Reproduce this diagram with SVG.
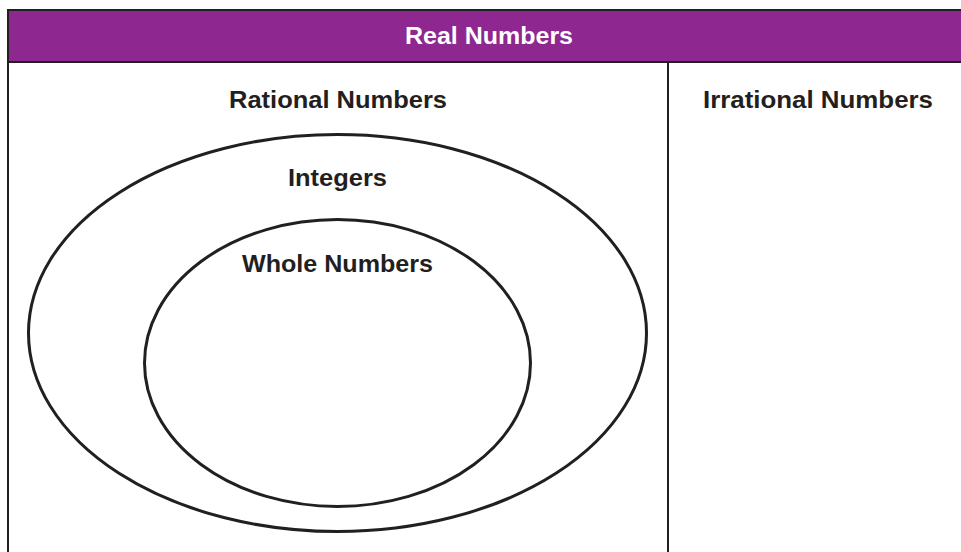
<svg xmlns="http://www.w3.org/2000/svg" width="961" height="552" viewBox="0 0 961 552">
  <style>
    .label { font-family: "Liberation Sans", Arial, sans-serif; font-weight: bold; font-size: 24px; fill: #231f20; text-anchor: middle; }
    .head { fill: #ffffff; }
    .rule { stroke: #231f20; stroke-width: 2; fill: none; }
    .set { stroke: #231f20; stroke-width: 3; fill: none; }
  </style>
  <rect x="0" y="0" width="961" height="552" fill="#ffffff"/>

  <!-- table frame -->
  <g id="frame">
    <line class="rule" x1="8" y1="10" x2="8" y2="552"/>
    <line class="rule" x1="668" y1="62" x2="668" y2="552"/>
  </g>

  <!-- title bar -->
  <g id="real-numbers">
    <rect x="8" y="10" width="960" height="52" fill="#8e278f" stroke="#231f20" stroke-width="2"/>
    <text class="label head" x="489" y="44" textLength="168" lengthAdjust="spacingAndGlyphs">Real Numbers</text>
  </g>

  <g id="rational-numbers">
    <text class="label" x="338" y="108" textLength="218" lengthAdjust="spacingAndGlyphs">Rational Numbers</text>
  </g>

  <g id="irrational-numbers">
    <text class="label" x="818" y="108" textLength="230" lengthAdjust="spacingAndGlyphs">Irrational Numbers</text>
  </g>

  <g id="integers">
    <ellipse class="set" cx="337.5" cy="333" rx="309" ry="198.5"/>
    <text class="label" x="337.5" y="186" textLength="99" lengthAdjust="spacingAndGlyphs">Integers</text>
  </g>

  <g id="whole-numbers">
    <ellipse class="set" cx="337.5" cy="363" rx="193" ry="143.5"/>
    <text class="label" x="337.5" y="272" textLength="191" lengthAdjust="spacingAndGlyphs">Whole Numbers</text>
  </g>
</svg>
